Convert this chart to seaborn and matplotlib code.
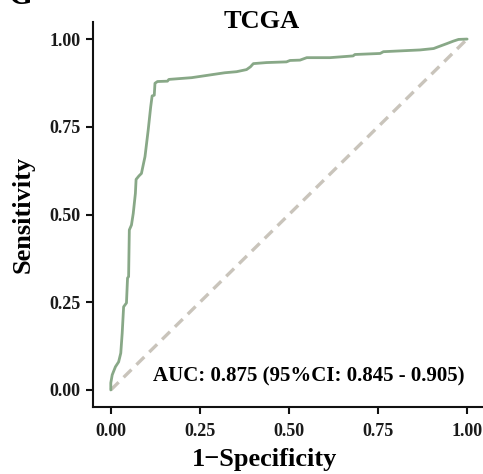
import matplotlib
matplotlib.use("Agg")
import matplotlib.pyplot as plt
import seaborn as sns
import pandas as pd

# ROC curve points (false positive rate, true positive rate)
fpr = [0.000, 0.000, 0.004, 0.013, 0.022, 0.028, 0.032, 0.036, 0.044, 0.047,
       0.050, 0.052, 0.058, 0.063, 0.069, 0.071, 0.079, 0.086, 0.092, 0.096,
       0.105, 0.112, 0.116, 0.122, 0.124, 0.131, 0.159, 0.163, 0.227, 0.320,
       0.353, 0.381, 0.392, 0.400, 0.437, 0.493, 0.503, 0.531, 0.550, 0.615,
       0.680, 0.685, 0.756, 0.765, 0.868, 0.906, 0.919, 0.943, 0.961, 0.976,
       1.000]
tpr = [0.000, 0.020, 0.043, 0.066, 0.080, 0.105, 0.162, 0.237, 0.248, 0.319,
       0.323, 0.456, 0.470, 0.503, 0.560, 0.600, 0.610, 0.617, 0.646, 0.665,
       0.741, 0.807, 0.838, 0.840, 0.874, 0.879, 0.880, 0.885, 0.890, 0.904,
       0.907, 0.913, 0.921, 0.930, 0.933, 0.935, 0.939, 0.940, 0.947, 0.947,
       0.952, 0.956, 0.959, 0.964, 0.969, 0.973, 0.978, 0.987, 0.994, 0.999,
       1.000]
ref_x = [0.0, 1.0]
ref_y = [0.0, 1.0]
tick_vals = [0.00, 0.25, 0.50, 0.75, 1.00]
tick_labels = ["0.00", "0.25", "0.50", "0.75", "1.00"]
auc_text = "AUC: 0.875 (95%CI: 0.845 - 0.905)"

roc = pd.DataFrame({"fpr": fpr, "tpr": tpr})
ref = pd.DataFrame({"x": ref_x, "y": ref_y})

sns.set_theme(style="white")
plt.rcParams["font.family"] = ["Liberation Serif", "DejaVu Serif"]
plt.rcParams["font.weight"] = "bold"

fig = plt.figure(figsize=(4.83, 4.74), dpi=100)
ax = fig.add_axes([0.1925, 0.1403, 0.8115, 0.8143])

sns.lineplot(data=ref, x="x", y="y", ax=ax, color="#c9c4bb", lw=2.4,
             linestyle=(0, (3.3, 2.1)), estimator=None, sort=False)
sns.lineplot(data=roc, x="fpr", y="tpr", ax=ax, color="#88a887", lw=2.0,
             estimator=None, sort=False)

ax.set_xlim(-0.05, 1.05)
ax.set_ylim(-0.05, 1.05)
ax.set_xticks(tick_vals)
ax.set_xticklabels(tick_labels, fontsize=13, fontweight="bold", color="#1a1a1a")
ax.set_yticks(tick_vals)
ax.set_yticklabels(tick_labels, fontsize=13, fontweight="bold", color="#1a1a1a")

for side in ["top", "right"]:
    ax.spines[side].set_visible(False)
for side in ["left", "bottom"]:
    ax.spines[side].set_color("#111111")
    ax.spines[side].set_linewidth(1.5)

ax.tick_params(axis="both", which="major", length=5, width=1.5,
               color="#111111", bottom=True, left=True)
ax.tick_params(axis="x", pad=6)
ax.tick_params(axis="y", pad=4)

ax.set_xlabel("1\u2212Specificity", fontsize=19, fontweight="bold", color="black")
ax.set_ylabel("Sensitivity", fontsize=19, fontweight="bold", color="black")
ax.xaxis.set_label_coords(0.439, -0.105)
ax.yaxis.set_label_coords(-0.148, 0.5)

fig.text(262 / 483, 1 - 28 / 474, "TCGA", ha="center", va="baseline",
         fontsize=19, fontweight="bold", color="black")
fig.text(8 / 483, 1 - 4 / 474, "G", ha="left", va="baseline",
         fontsize=22, fontweight="bold", color="black")

ax.text(0.118, 0.024, auc_text, ha="left", va="baseline",
        fontsize=15, fontweight="bold", color="black")

fig.savefig("out.png", dpi=100)
